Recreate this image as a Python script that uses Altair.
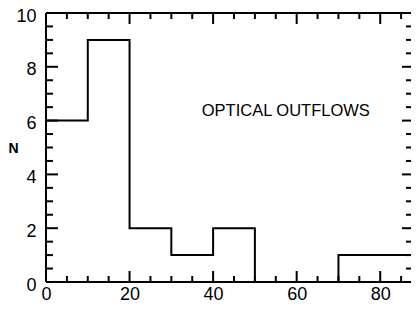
import altair as alt
import pandas as pd

# Histogram data (bin edges and counts)
bin_edges = [0, 10, 20, 30, 40, 50, 60, 70, 80, 90]
counts = [6, 9, 2, 1, 2, 0, 0, 1, 1]

# Tick values
x_labels = [0, 20, 40, 60, 80]
x_major = [20, 40, 60, 80]
x_minor = [5, 10, 15, 25, 30, 35, 45, 50, 55, 65, 70, 75, 85]
y_labels = [0, 2, 4, 6, 8, 10]
y_major = [2, 4, 6, 8]
y_minor = [0.5, 1, 1.5, 2.5, 3, 3.5, 4.5, 5, 5.5, 6.5, 7, 7.5, 8.5, 9, 9.5]

# Annotation
note_text = ["OPTICAL OUTFLOWS"]
note_x = [57.4]
note_y = [6.35]

W = 365          # visible plot width (the right frame lies just off the page)
FULL_W = 376     # pixel span of the 0-90 axis
H = 269
FONT = "Liberation Sans"

step_df = pd.DataFrame({"x": bin_edges, "n": counts + [counts[-1]]})

xs = alt.Scale(domain=[0, 90], range=[0, FULL_W], nice=False, zero=False)
ys = alt.Scale(domain=[0, 10], nice=False, zero=False)

base_axis = dict(ticks=False, domain=False, grid=False, labelFont=FONT,
                 labelFontSize=18, labelColor="black")

step = alt.Chart(step_df).mark_line(
    interpolate="step-after", color="black", strokeWidth=2, clip=True
).encode(
    x=alt.X("x:Q", scale=xs,
            axis=alt.Axis(values=x_labels, title=None, labelPadding=3,
                          labelFlush=False, **base_axis)),
    y=alt.Y("n:Q", scale=ys,
            axis=alt.Axis(values=y_labels, title="N", titleAngle=0,
                          titleX=-33, titleY=135, titleAlign="center",
                          titleBaseline="middle", titleFont=FONT,
                          titleFontSize=14, titleFontWeight="bold",
                          labelPadding=10, labelOffset=3,
                          labelFlush=False, **base_axis)),
)


def xticks(vals, length):
    df = pd.DataFrame({"x": vals})
    bottom = alt.Chart(df).mark_rule(color="black", strokeWidth=2).encode(
        x=alt.X("x:Q", scale=xs), y=alt.value(H), y2=alt.value(H - length))
    top = alt.Chart(df).mark_rule(color="black", strokeWidth=2).encode(
        x=alt.X("x:Q", scale=xs), y=alt.value(0), y2=alt.value(length))
    return [bottom, top]


def yticks(vals, length, right_len):
    df = pd.DataFrame({"y": vals})
    left = alt.Chart(df).mark_rule(color="black", strokeWidth=2).encode(
        y=alt.Y("y:Q", scale=ys), x=alt.value(0), x2=alt.value(length))
    right = alt.Chart(df).mark_rule(color="black", strokeWidth=2).encode(
        y=alt.Y("y:Q", scale=ys), x=alt.value(W), x2=alt.value(W - right_len))
    return [left, right]


# frame: left, top, bottom edges (right edge is off the page in the reference)
frame_left = alt.Chart(pd.DataFrame({"x": [0]})).mark_rule(
    color="black", strokeWidth=2).encode(
    x=alt.X("x:Q", scale=xs), y=alt.value(0), y2=alt.value(H))
frame_tb = alt.Chart(pd.DataFrame({"y": [0, 10]})).mark_rule(
    color="black", strokeWidth=2).encode(
    y=alt.Y("y:Q", scale=ys), x=alt.value(0), x2=alt.value(W))

note = alt.Chart(pd.DataFrame({"t": note_text, "x": note_x, "y": note_y})).mark_text(
    font=FONT, fontSize=16.5, color="black", align="center", baseline="middle"
).encode(x=alt.X("x:Q", scale=xs), y=alt.Y("y:Q", scale=ys), text="t:N")

layers = [step, frame_left, frame_tb] + xticks(x_major, 11) + xticks(x_minor, 6) + \
    yticks(y_major, 12, 9) + yticks(y_minor, 7, 5) + [note]

chart = alt.layer(*layers).properties(
    width=W, height=H,
    autosize=alt.AutoSizeParams(type="none"),
    padding={"left": 38, "top": 5, "right": 0, "bottom": 20},
).configure_view(stroke=None).configure(background="white")

chart.save("out.html", embed_options={"renderer": "svg", "actions": False})
